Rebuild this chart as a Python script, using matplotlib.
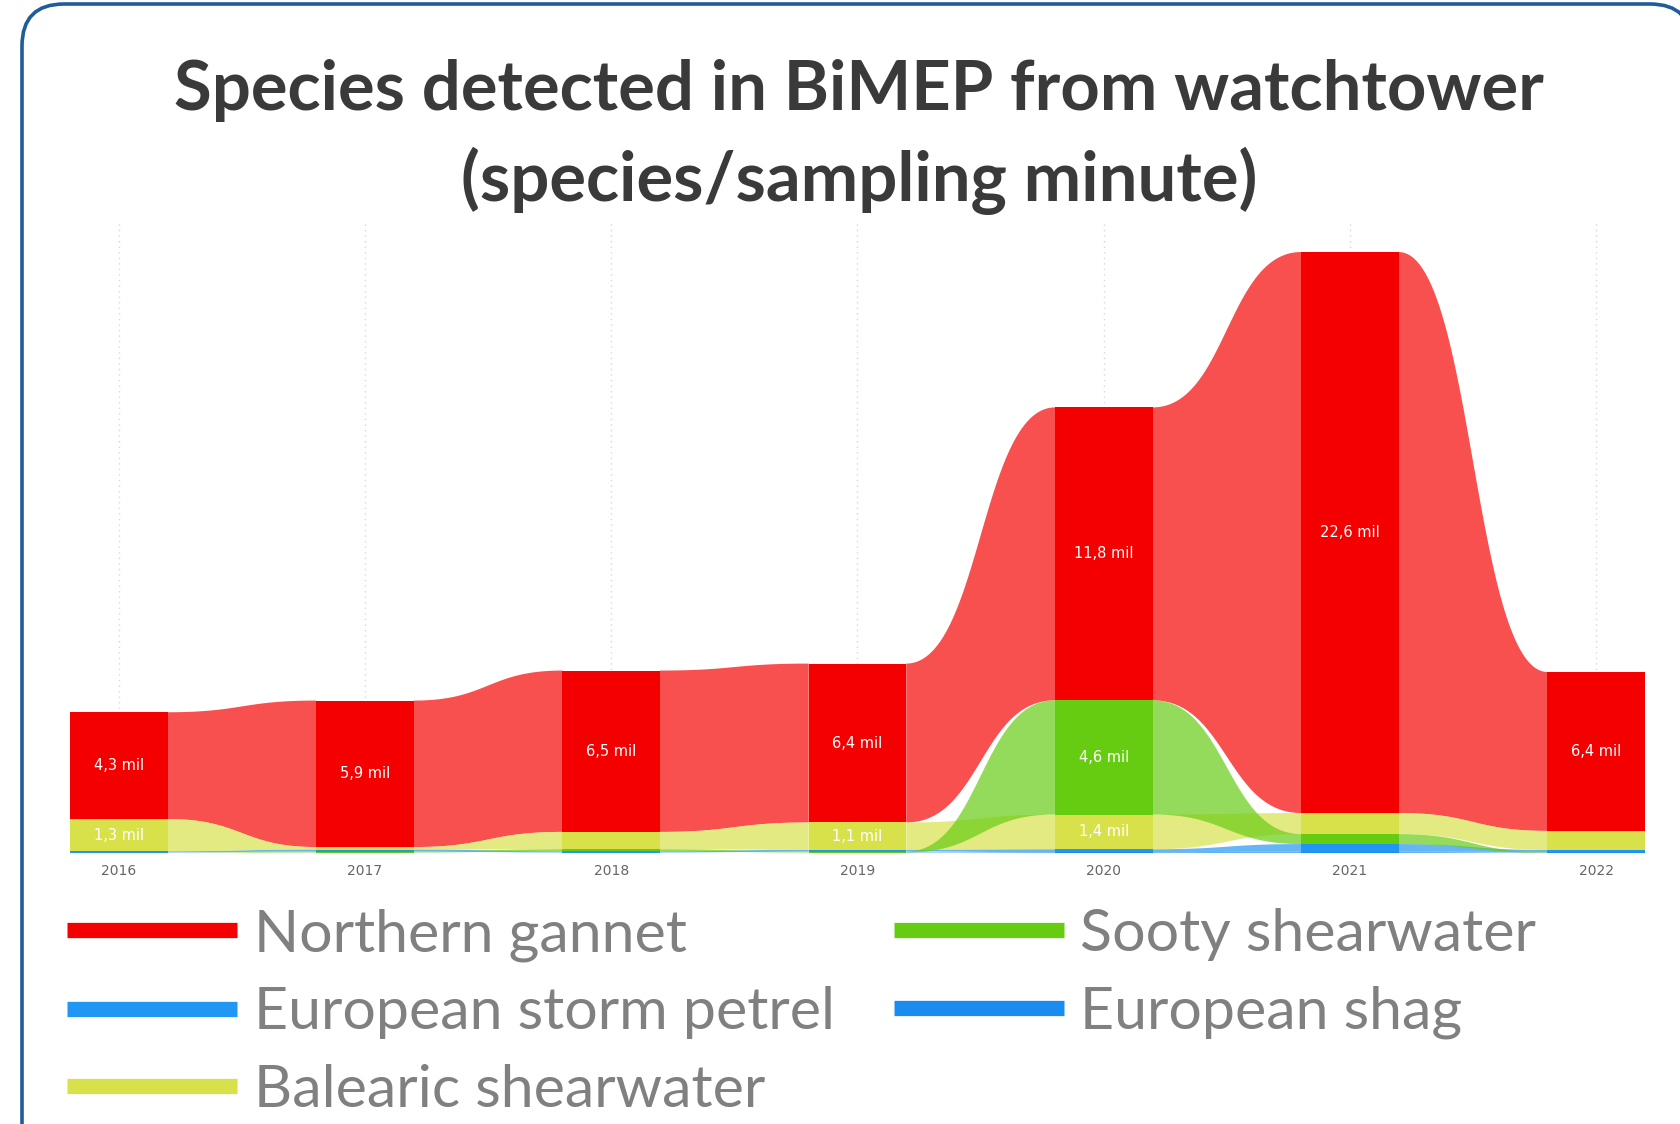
import numpy as np
import matplotlib
matplotlib.use("Agg")
import matplotlib.pyplot as plt
from matplotlib.patches import FancyBboxPatch
from matplotlib.lines import Line2D
import matplotlib.transforms as mtransforms

years = ["2016", "2017", "2018", "2019", "2020", "2021", "2022"]

# values in thousands (species / sampling minute)
northern_gannet = [4.3, 5.9, 6.5, 6.4, 11.8, 22.6, 6.4]
balearic_shearwater = [1.3, 0.10, 0.7, 1.1, 1.4, 0.85, 0.77]
sooty_shearwater = [0.0, 0.04, 0.08, 0.04, 4.6, 0.40, 0.02]
storm_petrel = [0.05, 0.08, 0.05, 0.07, 0.12, 0.30, 0.08]
european_shag = [0.02, 0.02, 0.02, 0.02, 0.03, 0.06, 0.02]

names = ["Northern gannet", "European storm petrel", "Balearic shearwater",
         "Sooty shearwater", "European shag"]
values = [northern_gannet, storm_petrel, balearic_shearwater,
          sooty_shearwater, european_shag]
colors = ["#F50000", "#2196F3", "#D9E14A", "#66CC11", "#1A8CF0"]
# order ribbons are painted in
draw_order = [0, 1, 4, 2, 3]

W, H = 1681, 1124
fig = plt.figure(figsize=(W / 100, H / 100), dpi=100)

# rounded frame, filled white so agg does not clip (and mangle) the curves
border = FancyBboxPatch((22, -200), 1692 - 22, (H - 4) + 200,
                        boxstyle="round,pad=0,rounding_size=42",
                        transform=mtransforms.IdentityTransform(),
                        fc="white", ec="#1F5C9A", lw=2.6, zorder=-5)
fig.add_artist(border)

ax = fig.add_axes([70 / W, (H - 853) / H, (1645 - 70) / W, (853 - 220) / H])
ax.patch.set_alpha(0)

n = len(years)
x = np.arange(n)
hw = 0.198
vals = np.array(values)

# ribbon layout: at each year, biggest series on top
bottoms = np.zeros_like(vals)
for j in range(n):
    order = np.argsort(vals[:, j], kind="stable")
    acc = 0.0
    for k in order:
        bottoms[k, j] = acc
        acc += vals[k, j]
tops = bottoms + vals

t = np.linspace(0, 1, 80)


def link(xa, xb, ya, yb):
    d = xb - xa
    bx = (1 - t) ** 3 * xa + 3 * (1 - t) ** 2 * t * (xa + d / 2) + 3 * (1 - t) * t ** 2 * (xb - d / 2) + t ** 3 * xb
    by = ((1 - t) ** 3 + 3 * (1 - t) ** 2 * t) * ya + (3 * (1 - t) * t ** 2 + t ** 3) * yb
    return bx, by


for k in draw_order:
    for j in range(n - 1):
        xs, ytop = link(x[j] + hw, x[j + 1] - hw, tops[k, j], tops[k, j + 1])
        _, ybot = link(x[j] + hw, x[j + 1] - hw, bottoms[k, j], bottoms[k, j + 1])
        ax.fill(np.r_[xs, xs[::-1]], np.r_[ytop, ybot[::-1]],
                color=colors[k], alpha=0.69, lw=0, zorder=2)

for k in range(len(names)):
    ax.bar(x, vals[k], bottom=bottoms[k], width=2 * hw, color=colors[k],
           lw=0, zorder=3)
    for j in range(n):
        if vals[k, j] >= 1.0:
            lab = f"{vals[k, j]:.1f} mil".replace(".", ",")
            ax.text(x[j], bottoms[k, j] + vals[k, j] / 2, lab, ha="center",
                    va="center", color="white", fontsize=10.5, zorder=4)

ax.set_xlim(-hw, n - 1 + hw)
ax.set_ylim(0, 25.5)
ax.set_xticks(x)
ax.set_xticklabels(years, fontsize=10, color="#666666")
ax.tick_params(axis="x", length=0, pad=8)
ax.set_yticks([])
for s in ax.spines.values():
    s.set_visible(False)
ax.grid(axis="x", linestyle=(0, (1, 3)), color="#d8d8d8", lw=1)
ax.set_axisbelow(True)

fig.text(859 / W, 1 - 110 / H, "Species detected in BiMEP from watchtower",
         ha="center", va="baseline", fontsize=49.5, fontweight="bold",
         family="Lato", color="#3A3A3A")
fig.text(859 / W, 1 - 201 / H, "(species/sampling minute)",
         ha="center", va="baseline", fontsize=49.5, fontweight="bold",
         family="Lato", color="#3A3A3A")

handles = [Line2D([], [], color=colors[k], lw=11, solid_capstyle="butt")
           for k in range(len(names))]
fig.legend(handles, names, loc="upper left",
           bbox_to_anchor=(67.5 / W, 1 - 908 / H),
           ncol=2, frameon=False, prop={"family": "Lato", "size": 42.6},
           labelcolor="#808080", handlelength=2.87, handletextpad=0.28,
           columnspacing=1.0, labelspacing=0.42, borderpad=0,
           borderaxespad=0)

fig.savefig("out.png", dpi=100)
